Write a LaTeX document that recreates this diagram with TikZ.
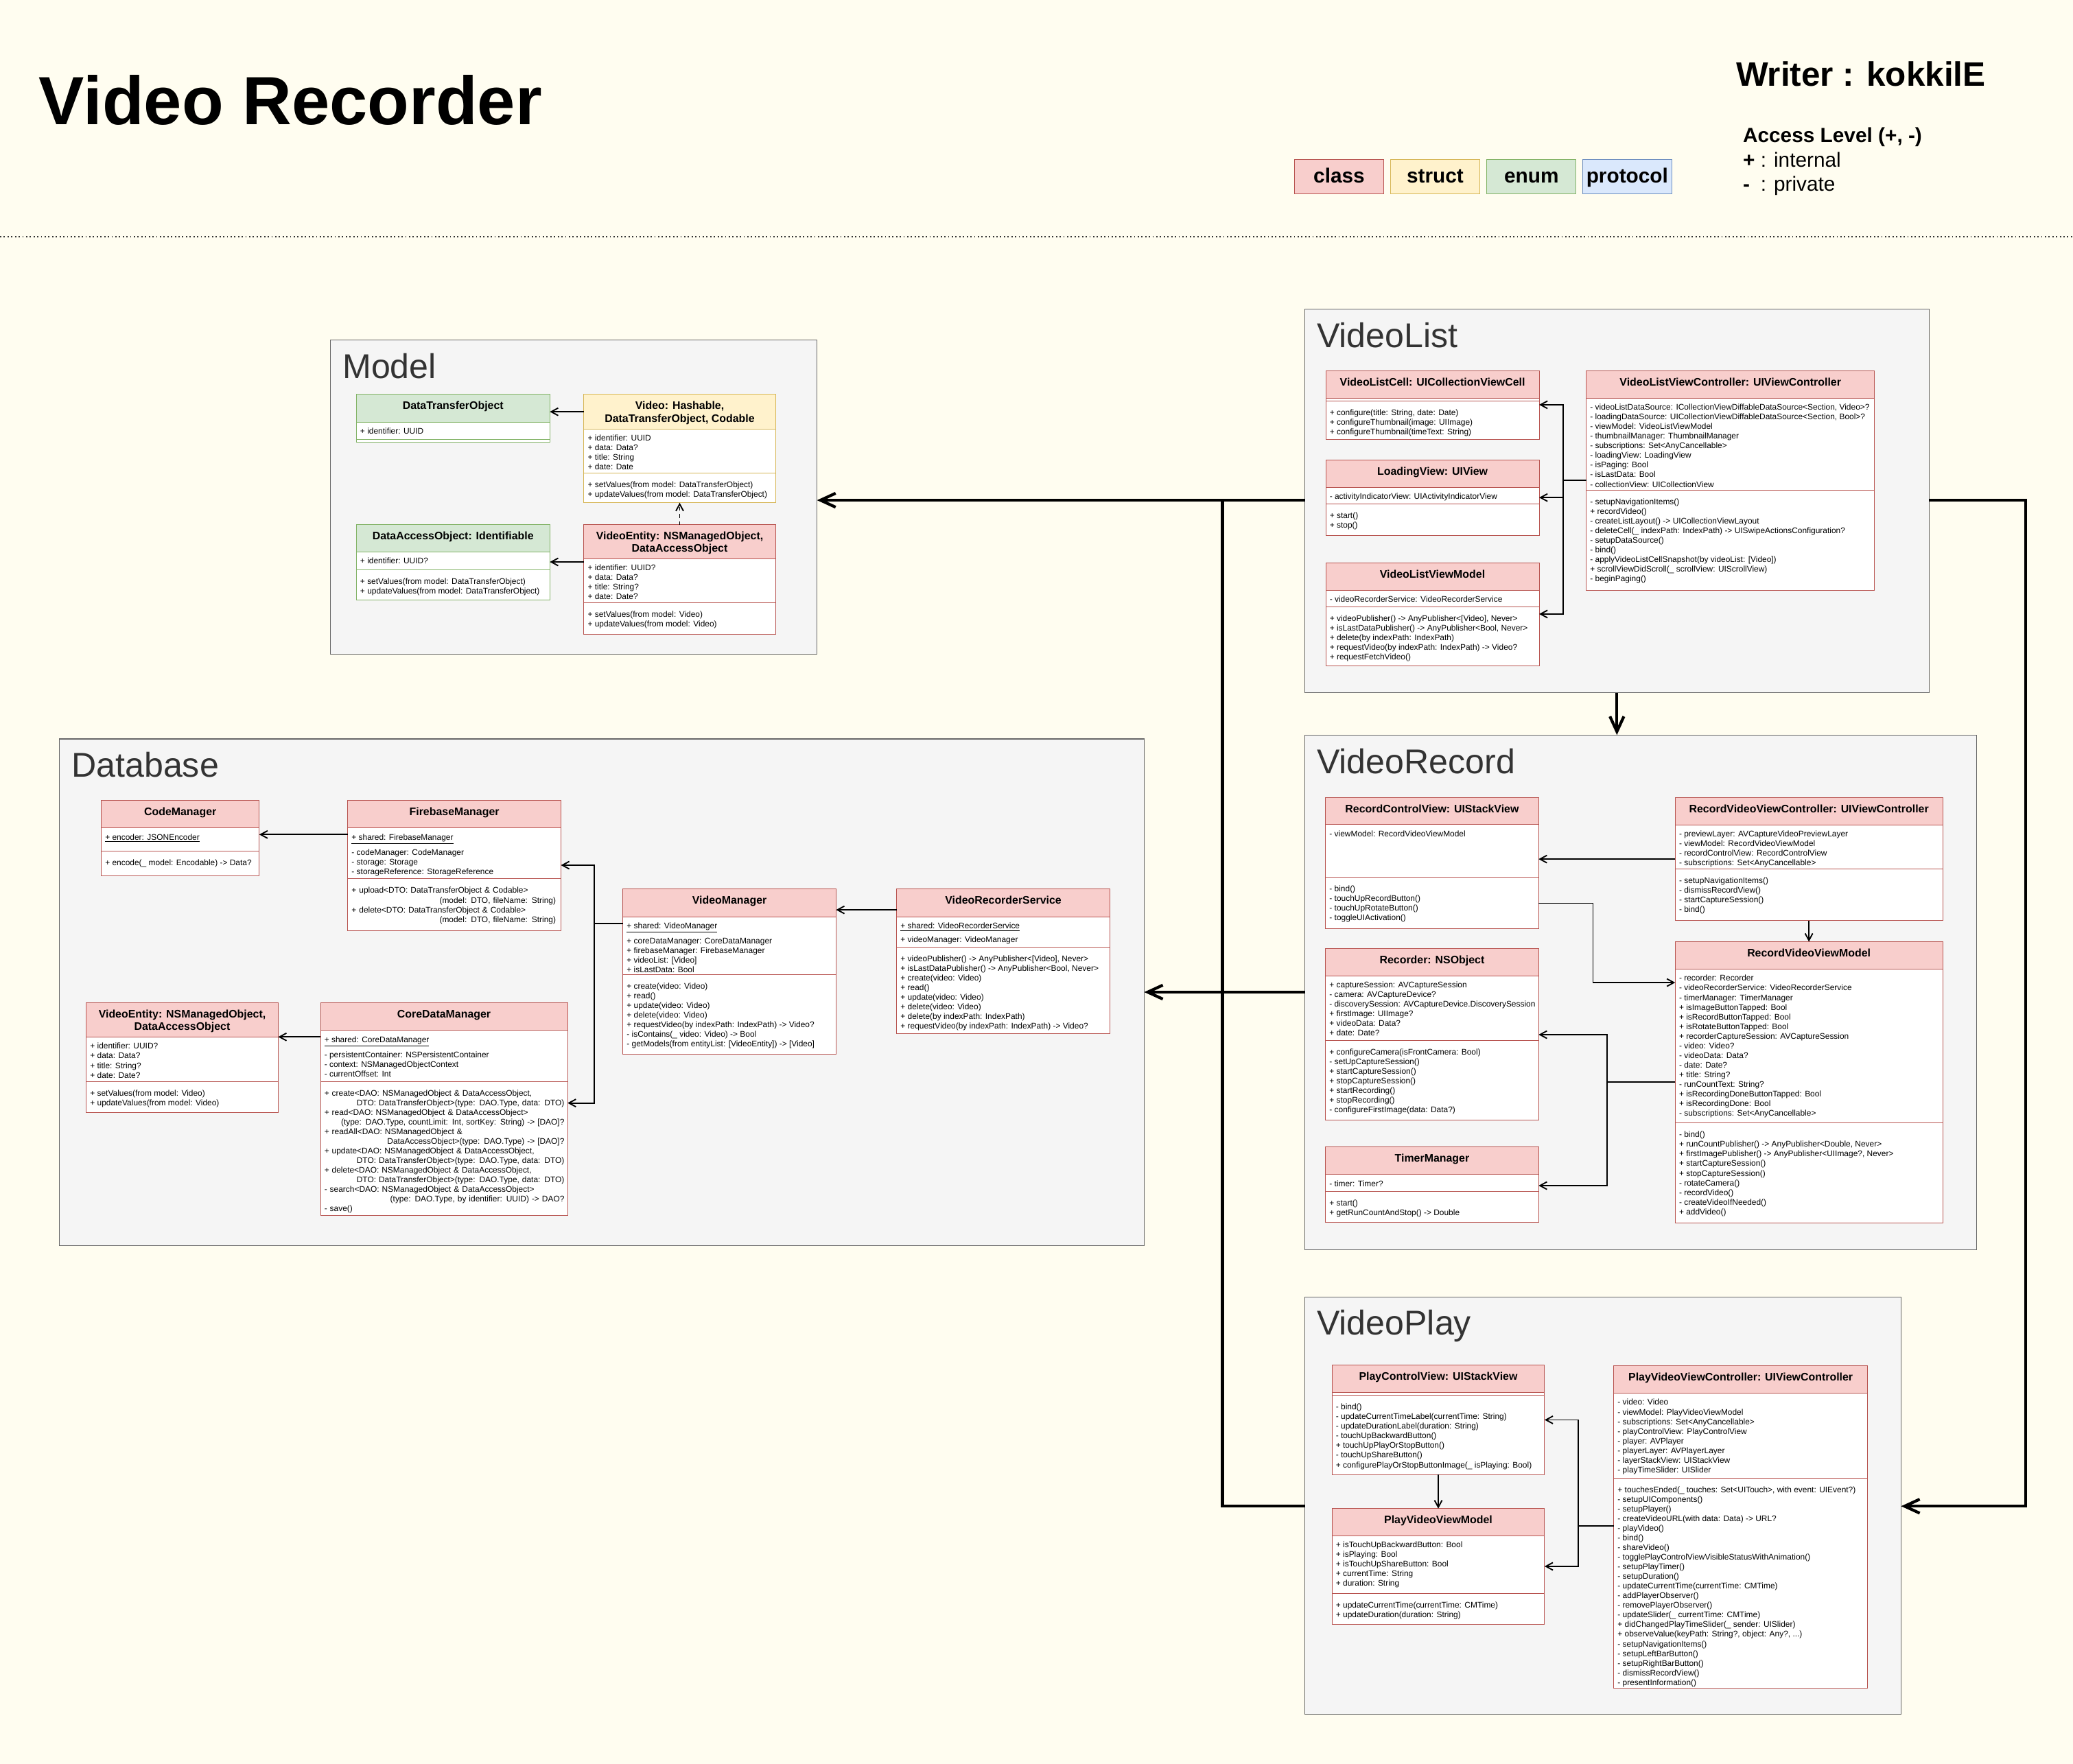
\documentclass[tikz,border=0pt]{standalone}
\usepackage{fontspec}
\setmainfont{Liberation Sans}
\usetikzlibrary{arrows.meta}

\newlength{\pxl}\setlength{\pxl}{0.04cm}
\newcommand{\bodyfont}{\fontsize{7.05pt}{8.3pt}\selectfont}
\newcommand{\hdrfont}{\fontsize{9.4pt}{10.8pt}\selectfont\bfseries}

\definecolor{bgcream}{HTML}{FFFDF0}
\definecolor{clsfill}{HTML}{F8CECC}\definecolor{clsline}{HTML}{B85450}
\definecolor{strfill}{HTML}{FFF2CC}\definecolor{strline}{HTML}{D6B656}
\definecolor{enmfill}{HTML}{D5E8D4}\definecolor{enmline}{HTML}{82B366}
\definecolor{profill}{HTML}{DAE8FC}\definecolor{proline}{HTML}{6C8EBF}
\definecolor{pkgfill}{HTML}{F5F5F5}\definecolor{pkgline}{HTML}{666666}
\definecolor{pkgtext}{HTML}{333333}

\tikzset{
  hdr/.style={rectangle, draw=#1line, fill=#1fill, line width=0.6pt, anchor=north west, inner sep=0, outer sep=0},
  sect/.style={rectangle, draw=#1line, fill=white, line width=0.6pt, anchor=north west, inner sep=0, outer sep=0},
  cname/.style={anchor=north, inner sep=0, yshift=-5.2*\pxl, font=\hdrfont, align=center},
  attrs/.style={anchor=north west, inner sep=0, xshift=2.8*\pxl, yshift=-4.3*\pxl, font=\bodyfont, align=left},
  meths/.style={attrs, yshift=-2*\pxl},
  pkg/.style={rectangle, draw=pkgline, fill=pkgfill, line width=0.6pt, anchor=north west, inner sep=0, outer sep=0},
  pkgname/.style={anchor=north west, inner sep=0, xshift=9*\pxl, yshift=-10*\pxl, font=\fontsize{29.6pt}{32pt}\selectfont, text=pkgtext},
  legend/.style={rectangle, draw=#1line, fill=#1fill, line width=0.6pt, minimum width=67.4*\pxl, minimum height=25.9*\pxl, inner sep=0, text height=13.2pt, text depth=2pt, font=\fontsize{17.6pt}{18pt}\selectfont\bfseries},
  link/.style={line width=1.1pt, -{Straight Barb[length=6pt,width=6.5pt]}},
  biglink/.style={line width=2.5pt, -{Straight Barb[length=13pt,width=12pt]}},
  bigline/.style={line width=2.5pt},
  sepline/.style={line width=1.1pt, pkgtext, dash pattern=on 1.1pt off 2.1pt}
}

\newcommand{\umlclass}[8]{%
  \node[hdr=#2, minimum width=#5*\pxl, minimum height=#6*\pxl] (#1) at (#3,#4) {};
  \node[sect=#2, minimum width=#5*\pxl, minimum height=#7*\pxl] (#1-a) at (#1.south west) {};
  \node[sect=#2, minimum width=#5*\pxl, minimum height=#8*\pxl] (#1-m) at (#1-a.south west) {};
}

\begin{document}
\begin{tikzpicture}[x=0.04cm, y=-0.04cm]
\useasboundingbox (0,0) rectangle (1568,1334.4);
\fill[bgcream] (0,0) rectangle (1568,1334.4);

\node[anchor=base west, inner sep=0, font=\fontsize{58.7pt}{60pt}\selectfont\bfseries] (title) at (29.4,94.3) {Video Recorder};
\node[anchor=base west, inner sep=0, font=\fontsize{29.2pt}{30pt}\selectfont\bfseries] (writer) at (1313,65.2) {Writer : kokkilE};
\node[anchor=base west, inner sep=0, font=\fontsize{17.6pt}{18pt}\selectfont\bfseries] (acc) at (1318.2,107.7) {Access Level (+, -)};
\node[anchor=base west, inner sep=0, font=\fontsize{17.6pt}{18pt}\selectfont] (accplus) at (1318.2,126.3) {\textbf{+} : internal};
\node[anchor=base west, inner sep=0, font=\fontsize{17.6pt}{18pt}\selectfont] (accminus) at (1318.2,144.4) {\rlap{\textbf{-}}\hphantom{\textbf{+}} : private};

\node[legend=cls] (lgclass) at (1012.9,133.5) {class};
\node[legend=str] (lgstruct) at (1085.5,133.5) {struct};
\node[legend=enm] (lgenum) at (1158.4,133.5) {enum};
\node[legend=pro] (lgproto) at (1230.8,133.5) {protocol};

\draw[sepline] (0,179) -- (1568,179);

\node[pkg, minimum width=368*\pxl, minimum height=238*\pxl] (model) at (250,257) {};
\node[pkgname] at (model.north west) {Model};
\node[pkg, minimum width=472*\pxl, minimum height=290*\pxl] (videolist) at (987,234) {};
\node[pkgname] at (videolist.north west) {VideoList};
\node[pkg, minimum width=820.5*\pxl, minimum height=383.5*\pxl] (database) at (45,559) {};
\node[pkgname] at (database.north west) {Database};
\node[pkg, minimum width=508*\pxl, minimum height=389.5*\pxl] (videorecord) at (987,556) {};
\node[pkgname] at (videorecord.north west) {VideoRecord};
\node[pkg, minimum width=451*\pxl, minimum height=316*\pxl] (videoplay) at (987,981) {};
\node[pkgname] at (videoplay.north west) {VideoPlay};

% Model
\umlclass{dto}{enm}{269.5}{298.4}{146.4}{21}{13.1}{2.1}
\node[cname] at (dto.north) {DataTransferObject};
\node[attrs] at (dto-a.north west) {+ identifier: UUID};

\umlclass{video}{str}{441.6}{298.4}{145}{26.2}{33.1}{22.6}
\node[cname] at (video.north) {Video: Hashable,\\DataTransferObject, Codable};
\node[attrs] at (video-a.north west) {+ identifier: UUID\\+ data: Data?\\+ title: String\\+ date: Date};
\node[meths] at (video-m.north west) {+ setValues(from model: DataTransferObject)\\+ updateValues(from model: DataTransferObject)};

\umlclass{dao}{enm}{269.5}{396.9}{146.4}{20.7}{13.4}{23}
\node[cname] at (dao.north) {DataAccessObject: Identifiable};
\node[attrs] at (dao-a.north west) {+ identifier: UUID?};
\node[meths] at (dao-m.north west) {+ setValues(from model: DataTransferObject)\\+ updateValues(from model: DataTransferObject)};

\umlclass{ventity}{cls}{441.6}{396.9}{145}{25.8}{33.1}{23.8}
\node[cname] at (ventity.north) {VideoEntity: NSManagedObject,\\DataAccessObject};
\node[attrs] at (ventity-a.north west) {+ identifier: UUID?\\+ data: Data?\\+ title: String?\\+ date: Date?};
\node[meths] at (ventity-m.north west) {+ setValues(from model: Video)\\+ updateValues(from model: Video)};

% Database
\umlclass{codem}{cls}{76.6}{605.5}{119.5}{20.9}{17.6}{18.6}
\node[cname] at (codem.north) {CodeManager};
\node[attrs] at (codem-a.north west) {\underline{+ encoder: JSONEncoder}};
\node[meths] at (codem-m.north west) {+ encode(\_ model: Encodable) -> Data?};

\umlclass{firebase}{cls}{263}{605.5}{161.3}{20.9}{38.4}{39.5}
\node[cname] at (firebase.north) {FirebaseManager};
\node[attrs] at (firebase-a.north west) {\underline{+ shared: FirebaseManager}\\[3.4pt]- codeManager: CodeManager\\- storage: Storage\\- storageReference: StorageReference};
\node[meths, text width=154.5*\pxl] at (firebase-m.north west) {+ upload<DTO: DataTransferObject \& Codable>\\\mbox{}\hfill(model: DTO, fileName: String)\\+ delete<DTO: DataTransferObject \& Codable>\\\mbox{}\hfill(model: DTO, fileName: String)};

\umlclass{dbentity}{cls}{65.2}{758.7}{145.2}{25.9}{33.4}{23.5}
\node[cname] at (dbentity.north) {VideoEntity: NSManagedObject,\\DataAccessObject};
\node[attrs] at (dbentity-a.north west) {+ identifier: UUID?\\+ data: Data?\\+ title: String?\\+ date: Date?};
\node[meths] at (dbentity-m.north west) {+ setValues(from model: Video)\\+ updateValues(from model: Video)};

\umlclass{coredata}{cls}{242.4}{758.7}{186.9}{20.8}{38.5}{101.4}
\node[cname] at (coredata.north) {CoreDataManager};
\node[attrs] at (coredata-a.north west) {\underline{+ shared: CoreDataManager}\\[3.4pt]- persistentContainer: NSPersistentContainer\\- context: NSManagedObjectContext\\- currentOffset: Int};
\node[meths, text width=181.5*\pxl] at (coredata-m.north west) {+ create<DAO: NSManagedObject \& DataAccessObject,\\\mbox{}\hfill DTO: DataTransferObject>(type: DAO.Type, data: DTO)\\+ read<DAO: NSManagedObject \& DataAccessObject>\\\mbox{}\hfill(type: DAO.Type, countLimit: Int, sortKey: String) -> [DAO]?\\+ readAll<DAO: NSManagedObject \&\\\mbox{}\hfill DataAccessObject>(type: DAO.Type) -> [DAO]?\\+ update<DAO: NSManagedObject \& DataAccessObject,\\\mbox{}\hfill DTO: DataTransferObject>(type: DAO.Type, data: DTO)\\+ delete<DAO: NSManagedObject \& DataAccessObject,\\\mbox{}\hfill DTO: DataTransferObject>(type: DAO.Type, data: DTO)\\- search<DAO: NSManagedObject \& DataAccessObject>\\\mbox{}\hfill(type: DAO.Type, by identifier: UUID) -> DAO?\\- save()};

\umlclass{videom}{cls}{471.1}{672.6}{161.3}{20.9}{43.6}{60.4}
\node[cname] at (videom.north) {VideoManager};
\node[attrs] at (videom-a.north west) {\underline{+ shared: VideoManager}\\[3.4pt]+ coreDataManager: CoreDataManager\\+ firebaseManager: FirebaseManager\\+ videoList: [Video]\\+ isLastData: Bool};
\node[meths] at (videom-m.north west) {+ create(video: Video)\\+ read()\\+ update(video: Video)\\+ delete(video: Video)\\+ requestVideo(by indexPath: IndexPath) -> Video?\\- isContains(\_ video: Video) -> Bool\\- getModels(from entityList: [VideoEntity]) -> [Video]};

\umlclass{vrservice}{cls}{678.2}{672.6}{161.3}{20.9}{22.9}{65.6}
\node[cname] at (vrservice.north) {VideoRecorderService};
\node[attrs] at (vrservice-a.north west) {\underline{+ shared: VideoRecorderService}\\[3.4pt]+ videoManager: VideoManager};
\node[meths] at (vrservice-m.north west) {+ videoPublisher() -> AnyPublisher<[Video], Never>\\+ isLastDataPublisher() -> AnyPublisher<Bool, Never>\\+ create(video: Video)\\+ read()\\+ update(video: Video)\\+ delete(video: Video)\\+ delete(by indexPath: IndexPath)\\+ requestVideo(by indexPath: IndexPath) -> Video?};

% VideoList
\umlclass{vlcell}{cls}{1002.8}{280.6}{161.4}{20.6}{2.2}{28.9}
\node[cname] at (vlcell.north) {VideoListCell: UICollectionViewCell};
\node[meths] at (vlcell-m.north west) {+ configure(title: String, date: Date)\\+ configureThumbnail(image: UIImage)\\+ configureThumbnail(timeText: String)};

\umlclass{loading}{cls}{1002.8}{347.9}{161.4}{20.7}{12.5}{24}
\node[cname] at (loading.north) {LoadingView: UIView};
\node[attrs] at (loading-a.north west) {- activityIndicatorView: UIActivityIndicatorView};
\node[meths] at (loading-m.north west) {+ start()\\+ stop()};

\umlclass{vlvm}{cls}{1002.8}{425.8}{161.4}{20.7}{12.5}{44.5}
\node[cname] at (vlvm.north) {VideoListViewModel};
\node[attrs] at (vlvm-a.north west) {- videoRecorderService: VideoRecorderService};
\node[meths] at (vlvm-m.north west) {+ videoPublisher() -> AnyPublisher<[Video], Never>\\+ isLastDataPublisher() -> AnyPublisher<Bool, Never>\\+ delete(by indexPath: IndexPath)\\+ requestVideo(by indexPath: IndexPath) -> Video?\\+ requestFetchVideo()};

\umlclass{vlvc}{cls}{1199.8}{280.6}{218.1}{20.6}{69.5}{75.8}
\node[cname] at (vlvc.north) {VideoListViewController: UIViewController};
\node[attrs] at (vlvc-a.north west) {- videoListDataSource: ICollectionViewDiffableDataSource<Section, Video>?\\- loadingDataSource: UICollectionViewDiffableDataSource<Section, Bool>?\\- viewModel: VideoListViewModel\\- thumbnailManager: ThumbnailManager\\- subscriptions: Set<AnyCancellable>\\- loadingView: LoadingView\\- isPaging: Bool\\- isLastData: Bool\\- collectionView: UICollectionView};
\node[meths] at (vlvc-m.north west) {- setupNavigationItems()\\+ recordVideo()\\- createListLayout() -> UICollectionViewLayout\\- deleteCell(\_ indexPath: IndexPath) -> UISwipeActionsConfiguration?\\- setupDataSource()\\- bind()\\- applyVideoListCellSnapshot(by videoList: [Video])\\+ scrollViewDidScroll(\_ scrollView: UIScrollView)\\- beginPaging()};

% VideoRecord
\umlclass{rcview}{cls}{1002.6}{603.2}{161.2}{20.6}{39.6}{39.2}
\node[cname] at (rcview.north) {RecordControlView: UIStackView};
\node[attrs] at (rcview-a.north west) {- viewModel: RecordVideoViewModel};
\node[meths] at (rcview-m.north west) {- bind()\\- touchUpRecordButton()\\- touchUpRotateButton()\\- toggleUIActivation()};

\umlclass{recorder}{cls}{1002.6}{717.6}{161.2}{20.6}{48.7}{60.3}
\node[cname] at (recorder.north) {Recorder: NSObject};
\node[attrs] at (recorder-a.north west) {+ captureSession: AVCaptureSession\\- camera: AVCaptureDevice?\\- discoverySession: AVCaptureDevice.DiscoverySession\\+ firstImage: UIImage?\\+ videoData: Data?\\+ date: Date?};
\node[meths] at (recorder-m.north west) {+ configureCamera(isFrontCamera: Bool)\\- setUpCaptureSession()\\+ startCaptureSession()\\+ stopCaptureSession()\\+ startRecording()\\+ stopRecording()\\- configureFirstImage(data: Data?)};

\umlclass{timer}{cls}{1002.6}{867.7}{161.2}{20.8}{12.6}{23.3}
\node[cname] at (timer.north) {TimerManager};
\node[attrs] at (timer-a.north west) {- timer: Timer?};
\node[meths] at (timer-m.north west) {+ start()\\+ getRunCountAndStop() -> Double};

\umlclass{rvvc}{cls}{1267.1}{603.3}{202.3}{20.7}{33.3}{39.2}
\node[cname] at (rvvc.north) {RecordVideoViewController: UIViewController};
\node[attrs] at (rvvc-a.north west) {- previewLayer: AVCaptureVideoPreviewLayer\\- viewModel: RecordVideoViewModel\\- recordControlView: RecordControlView\\- subscriptions: Set<AnyCancellable>};
\node[meths] at (rvvc-m.north west) {- setupNavigationItems()\\- dismissRecordView()\\- startCaptureSession()\\- bind()};

\umlclass{rvvm}{cls}{1267.1}{712.4}{202.3}{20.8}{116.3}{75.8}
\node[cname] at (rvvm.north) {RecordVideoViewModel};
\node[attrs] at (rvvm-a.north west) {- recorder: Recorder\\- videoRecorderService: VideoRecorderService\\- timerManager: TimerManager\\+ isImageButtonTapped: Bool\\+ isRecordButtonTapped: Bool\\+ isRotateButtonTapped: Bool\\+ recorderCaptureSession: AVCaptureSession\\- video: Video?\\- videoData: Data?\\- date: Date?\\+ title: String?\\- runCountText: String?\\+ isRecordingDoneButtonTapped: Bool\\+ isRecordingDone: Bool\\- subscriptions: Set<AnyCancellable>};
\node[meths] at (rvvm-m.north west) {- bind()\\+ runCountPublisher() -> AnyPublisher<Double, Never>\\+ firstImagePublisher() -> AnyPublisher<UIImage?, Never>\\+ startCaptureSession()\\+ stopCaptureSession()\\- rotateCamera()\\- recordVideo()\\- createVideoIfNeeded()\\+ addVideo()};

% VideoPlay
\umlclass{pcview}{cls}{1007.5}{1032.8}{160.8}{20.8}{1.9}{60}
\node[cname] at (pcview.north) {PlayControlView: UIStackView};
\node[meths] at (pcview-m.north west) {- bind()\\- updateCurrentTimeLabel(currentTime: String)\\- updateDurationLabel(duration: String)\\- touchUpBackwardButton()\\+ touchUpPlayOrStopButton()\\- touchUpShareButton()\\+ configurePlayOrStopButtonImage(\_ isPlaying: Bool)};

\umlclass{pvvm}{cls}{1007.5}{1141.2}{160.8}{20.6}{43.4}{23.8}
\node[cname] at (pvvm.north) {PlayVideoViewModel};
\node[attrs] at (pvvm-a.north west) {+ isTouchUpBackwardButton: Bool\\+ isPlaying: Bool\\+ isTouchUpShareButton: Bool\\+ currentTime: String\\+ duration: String};
\node[meths] at (pvvm-m.north west) {+ updateCurrentTime(currentTime: CMTime)\\+ updateDuration(duration: String)};

\umlclass{pvvc}{cls}{1220.6}{1033.2}{192}{20.8}{64}{159.2}
\node[cname] at (pvvc.north) {PlayVideoViewController: UIViewController};
\node[attrs] at (pvvc-a.north west) {- video: Video\\- viewModel: PlayVideoViewModel\\- subscriptions: Set<AnyCancellable>\\- playControlView: PlayControlView\\- player: AVPlayer\\- playerLayer: AVPlayerLayer\\- layerStackView: UIStackView\\- playTimeSlider: UISlider};
\node[meths] at (pvvc-m.north west) {+ touchesEnded(\_ touches: Set<UITouch>, with event: UIEvent?)\\- setupUIComponents()\\- setupPlayer()\\- createVideoURL(with data: Data) -> URL?\\- playVideo()\\- bind()\\- shareVideo()\\- togglePlayControlViewVisibleStatusWithAnimation()\\- setupPlayTimer()\\- setupDuration()\\- updateCurrentTime(currentTime: CMTime)\\- addPlayerObserver()\\- removePlayerObserver()\\- updateSlider(\_ currentTime: CMTime)\\+ didChangedPlayTimeSlider(\_ sender: UISlider)\\+ observeValue(keyPath: String?, object: Any?, ...)\\- setupNavigationItems()\\- setupLeftBarButton()\\- setupRightBarButton()\\- dismissRecordView()\\- presentInformation()};

% connectors inside the groups
\draw[link] (video.west) -- (video.west -| dto.east);
\draw[link] (ventity.west |- 0,425.1) -- (dao.east |- 0,425.1);
\draw[link, dash pattern=on 3pt off 3pt] (ventity.north) -- (video-m.south);

\draw[link] (firebase.west |- 0,631.3) -- (codem.east |- 0,631.3);
\draw[link] (coredata.west |- 0,784.4) -- (dbentity.east |- 0,784.4);
\draw[link] (vrservice.west |- 0,688.3) -- (videom.east |- 0,688.3);
\coordinate (dbfork) at (449.7,698.4);
\foreach \tgt/\ty in {firebase/654.5, coredata/834.4}
  \draw[link] (videom.west |- dbfork) -- (dbfork) |- (\tgt.east |- 0,\ty);

\coordinate (vlfork) at (1182.5,363.4);
\foreach \tgt/\ty in {vlcell/306.2, loading/376.4, vlvm/464.5}
  \draw[link] (vlvc.west |- vlfork) -- (vlfork) |- (\tgt.east |- 0,\ty);

\draw[link] (rvvc.west |- 0,649.9) -- (rcview.east |- 0,649.9);
\coordinate (rcturn) at (1204.9,683.3);
\draw[link] (rcview.east |- rcturn) -- (rcturn) |- (rvvm.west |- 0,743.3);
\coordinate (rvfork) at (1215.7,818.6);
\foreach \tgt/\ty in {recorder/782.7, timer/896.9}
  \draw[link] (rvvm.west |- rvfork) -- (rvfork) |- (\tgt.east |- 0,\ty);
\draw[link] (rvvc-m.south) -- (rvvm.north);

\draw[link] (pcview-m.south) -- (pvvm.north);
\coordinate (pvfork) at (1193.9,1154.1);
\foreach \tgt/\ty in {pcview/1074.1, pvvm/1184.9}
  \draw[link] (pvvc.west |- pvfork) -- (pvfork) |- (\tgt.east |- 0,\ty);

% connectors between the groups
\coordinate (mfork) at (924.7,378.4);
\draw[biglink] (videolist.west |- mfork) -- (model.east |- mfork);
\draw[bigline] (videoplay.west |- 0,1139.4) -| (mfork);
\draw[biglink] (videorecord.west |- 0,750.5) -- (database.east |- 0,750.5);
\coordinate (rturn) at (1532,378.4);
\draw[biglink] (videolist.east |- rturn) -- (rturn) |- (videoplay.east |- 0,1139.4);
\draw[biglink] (videolist.south) -- (videolist.south |- videorecord.north);
\end{tikzpicture}
\end{document}
